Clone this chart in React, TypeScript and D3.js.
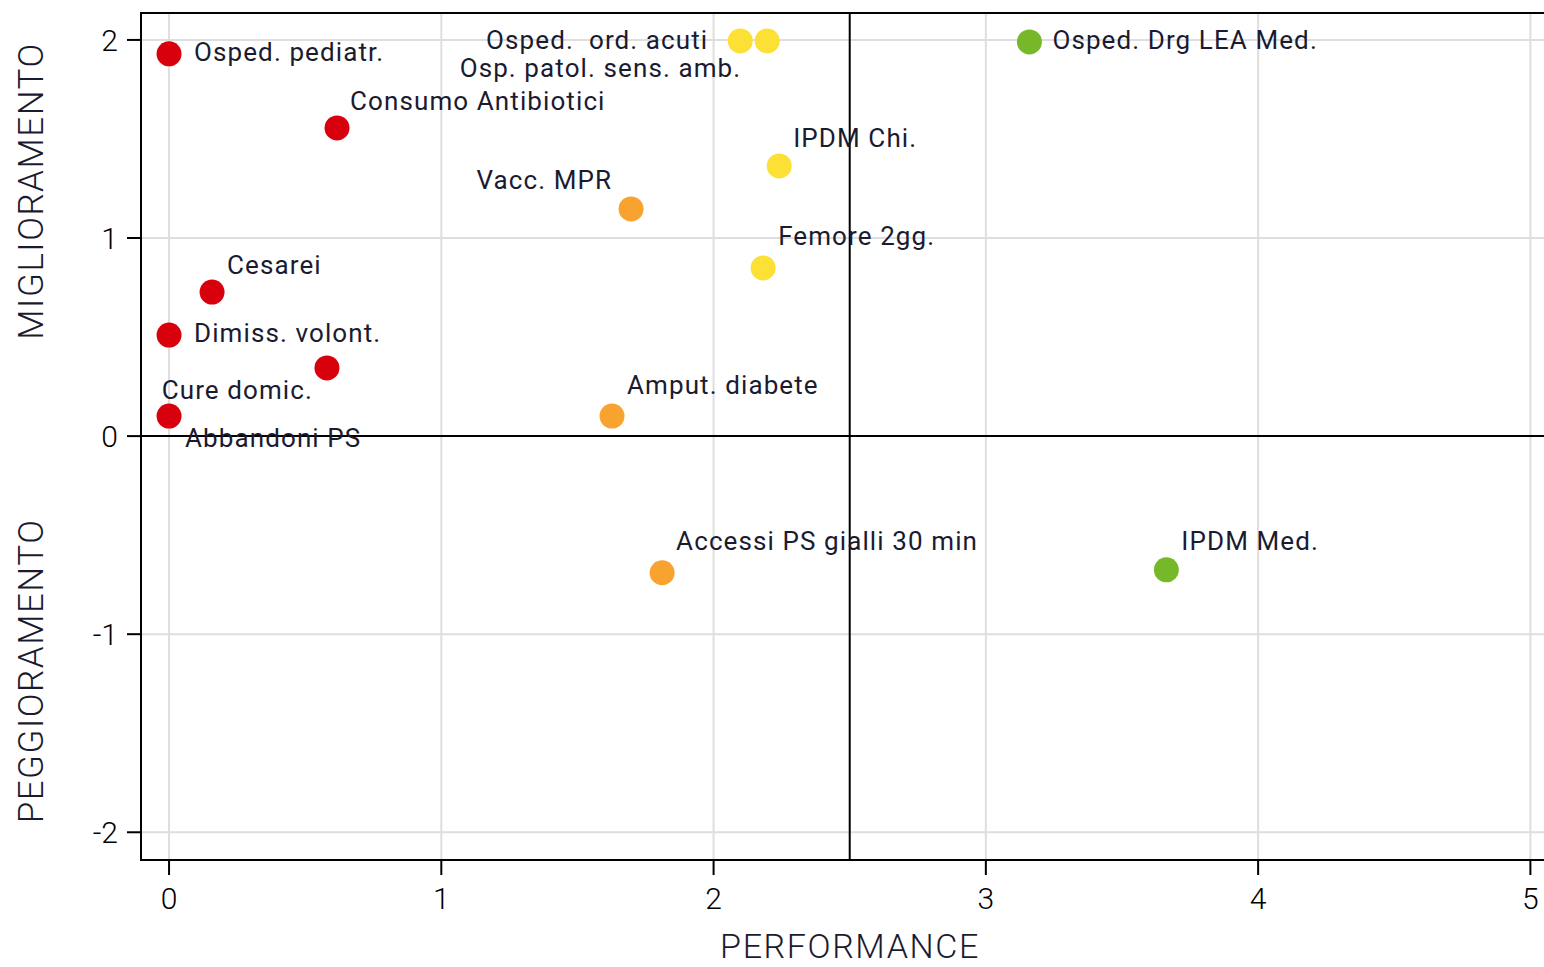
import * as d3 from "d3";

const names = [
  "Osped. pediatr.", "Consumo Antibiotici", "Cesarei", "Dimiss. volont.", "Cure domic.", "Abbandoni PS",
  "Osped.  ord. acuti", "Osp. patol. sens. amb.", "Osped. Drg LEA Med.", "IPDM Chi.", "Vacc. MPR",
  "Femore 2gg.", "Amput. diabete", "Accessi PS gialli 30 min", "IPDM Med.",
];
const performance = [0, 0.617, 0.158, 0, 0.58, 0, 2.098, 2.197, 3.16, 2.241, 1.697, 2.182, 1.627, 1.811, 3.663];
const improvement = [1.93, 1.556, 0.727, 0.51, 0.344, 0.101, 1.995, 1.995, 1.99, 1.364, 1.147, 0.849, 0.101, -0.69, -0.675];
const group = ["r", "r", "r", "r", "r", "r", "y", "y", "g", "y", "o", "y", "o", "o", "g"];

const xTicks = [0, 1, 2, 3, 4, 5];
const yTicks = [-2, -1, 0, 1, 2];

// label placement: [dx, dy, anchor]
const labelPos: [number, number, string][] = [
  [25, 7, "start"], [13, -18, "start"], [15, -18, "start"], [25, 7, "start"], [-14, 31, "end"], [16, 31, "start"],
  [-32, 8, "end"], [-26, 36, "end"], [23, 7, "start"], [14, -19, "start"], [-19, -20, "end"],
  [15, -23, "start"], [15, -22, "start"], [14, -23, "start"], [15, -20, "start"],
];

const colors: Record<string, string> = { r: "#d9000d", o: "#f8a22f", y: "#fde036", g: "#77b82b" };

export default function App() {
  const width = 1544;
  const height = 967;
  const left = 141, top = 13, bottom = 860;

  const x = d3.scaleLinear([-0.103, 5.05], [left, width]);
  const y = d3.scaleLinear([-2.14, 2.136], [bottom, top]);

  const font = "Roboto, sans-serif";
  const textColor = "#1b1b30";

  return (
    <svg width={width} height={height} style={{ position: "absolute", left: 0, top: 0, background: "#fff" }}
      fontFamily={font}>
      {/* grid */}
      {xTicks.map(t => (
        <line key={"gx" + t} x1={x(t)} x2={x(t)} y1={top} y2={bottom} stroke="#dedede" strokeWidth={2} />
      ))}
      {yTicks.map(t => (
        <line key={"gy" + t} x1={left} x2={width} y1={y(t)} y2={y(t)} stroke="#dedede" strokeWidth={2} />
      ))}

      {/* quadrant lines */}
      <line x1={x(2.5)} x2={x(2.5)} y1={top} y2={bottom} stroke="#000" strokeWidth={2} />
      <line x1={left} x2={width} y1={y(0)} y2={y(0)} stroke="#000" strokeWidth={2} />

      {/* frame */}
      <path d={`M${width},${top}H${left}V${bottom}H${width}`} fill="none" stroke="#000" strokeWidth={2} />

      {/* ticks */}
      {yTicks.map(t => (
        <g key={"ty" + t}>
          <line x1={127} x2={left} y1={y(t)} y2={y(t)} stroke="#000" strokeWidth={2} />
          <text x={118} y={y(t) + 11} textAnchor="end" fontSize={30} fontWeight={300} fill="#000">
            {t < 0 ? "-" + Math.abs(t) : t}
          </text>
        </g>
      ))}
      {xTicks.map(t => (
        <g key={"tx" + t}>
          <line x1={x(t)} x2={x(t)} y1={bottom} y2={875} stroke="#000" strokeWidth={2} />
          <text x={x(t)} y={909} textAnchor="middle" fontSize={30} fontWeight={300} fill="#000">{t}</text>
        </g>
      ))}

      {/* axis titles */}
      <text x={850} y={958} textAnchor="middle" fontSize={34} fontWeight={300} letterSpacing={1.6}
        fill={textColor}>PERFORMANCE</text>
      <text transform={`translate(43,${191}) rotate(-90)`} textAnchor="middle" fontSize={35} fontWeight={300}
        letterSpacing={1.5} fill={textColor}>MIGLIORAMENTO</text>
      <text transform={`translate(43,${671}) rotate(-90)`} textAnchor="middle" fontSize={35} fontWeight={300}
        letterSpacing={1.5} fill={textColor}>PEGGIORAMENTO</text>

      {/* points */}
      {names.map((n, i) => (
        <circle key={"c" + i} cx={x(performance[i])} cy={y(improvement[i])} r={12.5} fill={colors[group[i]]} />
      ))}

      {/* labels */}
      {names.map((n, i) => (
        <text key={"l" + i} x={x(performance[i]) + labelPos[i][0]} y={y(improvement[i]) + labelPos[i][1]}
          textAnchor={labelPos[i][2]} fontSize={26} letterSpacing={1.1} fill={textColor}
          style={{ whiteSpace: "pre" }}>
          {n}
        </text>
      ))}
    </svg>
  );
}
